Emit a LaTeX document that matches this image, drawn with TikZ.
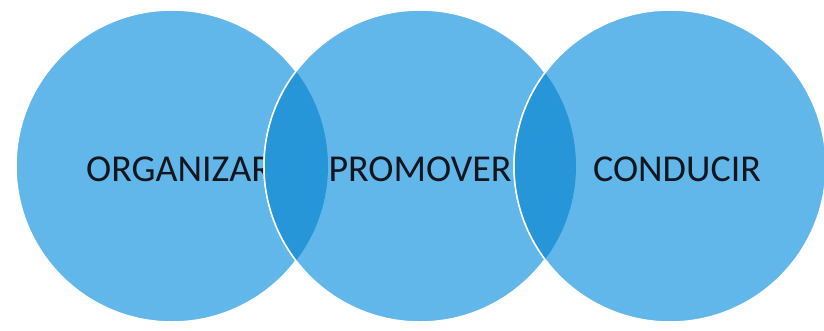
\documentclass[tikz,border=0pt]{standalone}
\usepackage{fontspec}
\setsansfont{Carlito}
\usepackage{xcolor}
\usetikzlibrary{positioning}
\definecolor{skyfill}{RGB}{98,183,234}
\definecolor{lensfill}{RGB}{38,150,216}
\definecolor{wordink}{RGB}{20,22,30}

\begin{document}
\begin{tikzpicture}[x=1pt,y=1pt,
  ring/.style={circle,fill=skyfill,draw=white,line width=1.5pt,minimum size=312pt,inner sep=0pt},
  word/.style={font=\sffamily\fontsize{38}{40}\selectfont,text=wordink,inner sep=0pt},
  lens/.style={fill=lensfill,draw=white,line width=1.5pt}
]
\useasboundingbox (0,0) rectangle (824,330);

% Circles, left to right
\node[ring] (org) at (172,164) {};
\node[word] (orgword) at ([xshift=7pt,yshift=-3pt]org.center) {ORGANIZAR};
\node[ring] (pro) at (420,164) {};
\node[word] (proword) at ([yshift=-3pt]pro.center) {PROMOVER};

% Overlap of the first pair
\begin{scope}
  \clip (org.center) circle (156);
  \path[lens] (pro.center) circle (156);
\end{scope}

\node[ring] (con) at (670,164) {};
\node[word] (conword) at ([xshift=7pt,yshift=-3pt]con.center) {CONDUCIR};

% Overlap of the second pair
\begin{scope}
  \clip (pro.center) circle (156);
  \path[lens] (con.center) circle (156);
\end{scope}

\end{tikzpicture}
\end{document}
